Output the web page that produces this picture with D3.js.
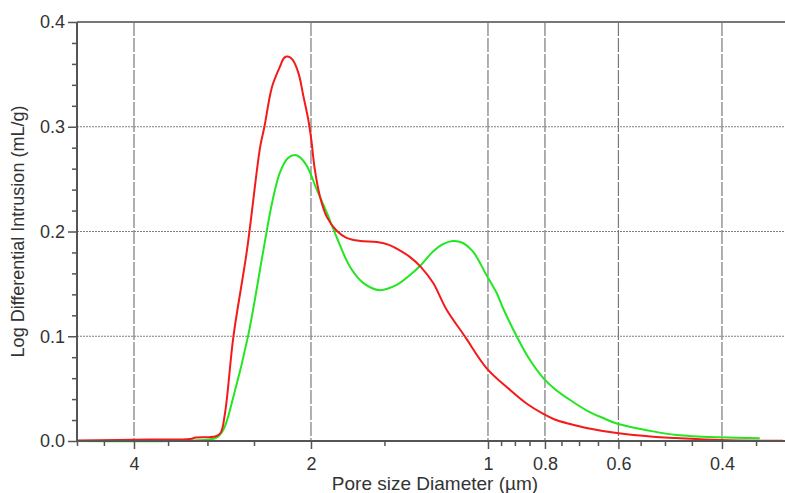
<!DOCTYPE html>
<html>
<head>
<meta charset="utf-8">
<script src="https://cdn.jsdelivr.net/npm/d3@7/dist/d3.min.js"></script>
<style>
  html, body { margin: 0; padding: 0; background: #fff; }
  svg { display: block; }
  text { font-family: "Liberation Sans", Arial, sans-serif; fill: #333; }
</style>
</head>
<body>
<svg id="chart" width="785" height="493"></svg>
<script>
// ---- Data ----
const redDiam = [5, 3.76, 3.21, 3.14, 2.91, 2.85, 2.80, 2.71, 2.57, 2.44, 2.40, 2.33, 2.26, 2.22, 2.19, 2.15, 2.10, 2.06, 2.02, 2.00, 1.97, 1.93, 1.88, 1.81, 1.74, 1.65, 1.545, 1.47, 1.413, 1.36, 1.30, 1.24, 1.175, 1.094, 1.005, 0.917, 0.86, 0.805, 0.77, 0.725, 0.68, 0.604, 0.524, 0.478, 0.403, 0.315];
const redVal  = [0.0005, 0.0014, 0.002, 0.0033, 0.0043, 0.0076, 0.027, 0.0996, 0.182, 0.281, 0.300, 0.338, 0.357, 0.366, 0.367, 0.364, 0.351, 0.329, 0.306, 0.290, 0.259, 0.233, 0.214, 0.201, 0.194, 0.191, 0.190, 0.187, 0.182, 0.176, 0.166, 0.151, 0.125, 0.0996, 0.0694, 0.0487, 0.0358, 0.0258, 0.0205, 0.0162, 0.0124, 0.0076, 0.0041, 0.0029, 0.001, 0.0002];

const greenDiam = [5, 3.21, 2.90, 2.82, 2.71, 2.56, 2.41, 2.33, 2.26, 2.19, 2.13, 2.09, 2.03, 1.955, 1.88, 1.81, 1.717, 1.63, 1.527, 1.43, 1.36, 1.30, 1.24, 1.193, 1.147, 1.103, 1.061, 1.005, 0.966, 0.943, 0.893, 0.85, 0.805, 0.77, 0.725, 0.679, 0.64, 0.604, 0.524, 0.478, 0.403, 0.345];
const greenVal  = [0.0, 0.0005, 0.003, 0.0105, 0.0423, 0.0996, 0.182, 0.227, 0.256, 0.270, 0.273, 0.271, 0.262, 0.240, 0.218, 0.195, 0.1664, 0.151, 0.144, 0.149, 0.158, 0.168, 0.181, 0.188, 0.191, 0.189, 0.181, 0.158, 0.141, 0.127, 0.0996, 0.078, 0.060, 0.0497, 0.0391, 0.0291, 0.0224, 0.0167, 0.0092, 0.0058, 0.0035, 0.0026];

const xMajorTicks = [4, 2, 1, 0.8, 0.6, 0.4];
const xMajorLabels = ["4", "2", "1", "0.8", "0.6", "0.4"];
const xMinorTicks = [5, 4.5, 3.5, 3, 2.5, 1.5, 0.95, 0.9, 0.85, 0.75, 0.7, 0.65, 0.55, 0.5, 0.45, 0.35];
const yMajorTicks = [0, 0.1, 0.2, 0.3, 0.4];
const yMajorLabels = ["0.0", "0.1", "0.2", "0.3", "0.4"];
const yMinorTicks = [0.02, 0.04, 0.06, 0.08, 0.12, 0.14, 0.16, 0.18, 0.22, 0.24, 0.26, 0.28, 0.32, 0.34, 0.36, 0.38];

const xTitle = "Pore size Diameter (µm)";
const yTitle = "Log Differential Intrusion (mL/g)";

// ---- Layout ----
const svg = d3.select("#chart");
const L = 77, T = 22, R = 785, B = 441;

const x = d3.scaleLog().domain([5, 0.3125]).range([L, R]);
const y = d3.scaleLinear().domain([0, 0.4]).range([B, T]);

// Horizontal grid (dotted)
svg.append("g").selectAll("line")
  .data(yMajorTicks.filter(v => v > 0 && v < 0.4))
  .join("line")
  .attr("x1", L).attr("x2", R)
  .attr("y1", d => y(d)).attr("y2", d => y(d))
  .attr("stroke", "#808080").attr("stroke-width", 1.2)
  .attr("stroke-dasharray", "2,1");

// Vertical grid (dashed)
svg.append("g").selectAll("line")
  .data(xMajorTicks)
  .join("line")
  .attr("x1", d => x(d)).attr("x2", d => x(d))
  .attr("y1", T).attr("y2", B)
  .attr("stroke", "#7a7a7a").attr("stroke-width", 1.2)
  .attr("stroke-dasharray", "14,2");

// Top frame
svg.append("line")
  .attr("x1", L).attr("x2", R).attr("y1", T).attr("y2", T)
  .attr("stroke", "#777").attr("stroke-width", 2);

// Curves
const line = d3.line()
  .x(d => x(d[0])).y(d => y(d[1]))
  .curve(d3.curveCatmullRom.alpha(0.5));

svg.append("path")
  .datum(greenDiam.map((d, i) => [d, greenVal[i]]))
  .attr("d", line)
  .attr("fill", "none").attr("stroke", "#22e622").attr("stroke-width", 2);

svg.append("path")
  .datum(redDiam.map((d, i) => [d, redVal[i]]))
  .attr("d", line)
  .attr("fill", "none").attr("stroke", "#f41a1a").attr("stroke-width", 2);

// X axis
const xAxisMajor = d3.axisBottom(x).tickValues(xMajorTicks)
  .tickFormat((d, i) => xMajorLabels[i]).tickSize(8).tickPadding(8);
const gx = svg.append("g").attr("transform", `translate(0,${B})`).call(xAxisMajor);
const gxm = svg.append("g").attr("transform", `translate(0,${B})`)
  .call(d3.axisBottom(x).tickValues(xMinorTicks).tickFormat("").tickSize(5));
gxm.select(".domain").remove();

// Y axis
const yAxisMajor = d3.axisLeft(y).tickValues(yMajorTicks)
  .tickFormat((d, i) => yMajorLabels[i]).tickSize(9).tickPadding(3);
const gy = svg.append("g").attr("transform", `translate(${L},0)`).call(yAxisMajor);
const gym = svg.append("g").attr("transform", `translate(${L},0)`)
  .call(d3.axisLeft(y).tickValues(yMinorTicks).tickFormat("").tickSize(5));
gym.select(".domain").remove();

[gx, gy, gxm, gym].forEach(g => {
  g.selectAll(".domain").attr("stroke", "#555").attr("stroke-width", 2);
  g.selectAll(".tick line").attr("stroke", "#555").attr("stroke-width", 1.5);
  g.selectAll(".tick text").attr("fill", "#333")
    .style("font-size", "18px").style("font-family", "'Liberation Sans', Arial, sans-serif");
});
gy.selectAll(".domain").attr("d", `M0,${T}V${B}`);
gx.selectAll(".domain").attr("d", `M${L},0H${R}`);

// Titles
svg.append("text")
  .attr("x", 435).attr("y", 490)
  .attr("text-anchor", "middle")
  .style("font-size", "19px")
  .text(xTitle);

svg.append("text")
  .attr("transform", `translate(24,${(T + B) / 2}) rotate(-90)`)
  .attr("text-anchor", "middle")
  .style("font-size", "18px")
  .text(yTitle);
</script>
</body>
</html>
